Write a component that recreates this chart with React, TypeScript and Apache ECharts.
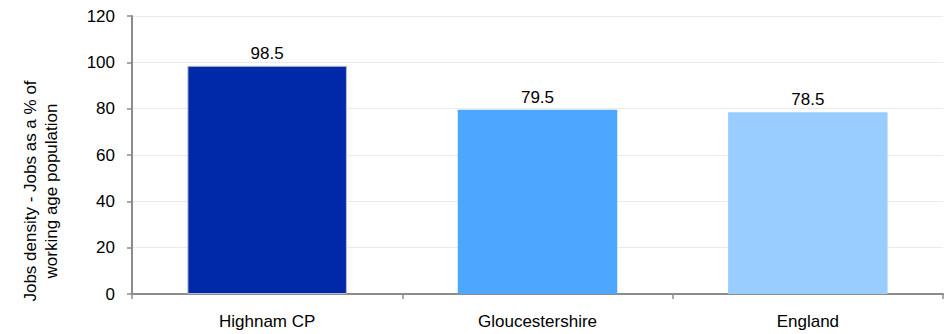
import React, { useEffect, useRef } from "react";
import * as echarts from "echarts";

const categories = ["Highnam CP", "Gloucestershire", "England"];
const values = [98.5, 79.5, 78.5];
const barColors = ["#0029AA", "#4DA6FF", "#99CCFF"];
const yTicks = { min: 0, max: 120, interval: 20 };
const yName = "Jobs density - Jobs as a % of\nworking age population";

export default function App() {
  const ref = useRef<HTMLDivElement>(null);
  useEffect(() => {
    const chart = echarts.init(ref.current!, null, { renderer: "svg" });
    const font = "'Liberation Sans', Arial, sans-serif";
    chart.setOption({
      animation: false,
      grid: { left: 132, right: 6, top: 16, bottom: 40, containLabel: false },
      graphic: [
        {
          type: "text",
          x: 41,
          y: 191,
          rotation: Math.PI / 2,
          style: {
            text: yName,
            fill: "#000",
            fontSize: 17,
            fontFamily: font,
            lineHeight: 21,
            textAlign: "center",
            textVerticalAlign: "middle",
          },
        },
      ],
      xAxis: {
        type: "category",
        data: categories,
        axisLine: { lineStyle: { color: "#8c8c8c", width: 2 } },
        axisTick: { show: true, length: 5, lineStyle: { color: "#8c8c8c", width: 1.5 } },
        axisLabel: { color: "#000", fontSize: 17, fontFamily: font, margin: 19 },
      },
      yAxis: {
        type: "value",
        min: yTicks.min,
        max: yTicks.max,
        interval: yTicks.interval,
        axisLine: { show: true, lineStyle: { color: "#8c8c8c", width: 2 } },
        axisTick: { show: true, length: 5, lineStyle: { color: "#8c8c8c", width: 1.5 } },
        axisLabel: { color: "#000", fontSize: 17, fontFamily: font, margin: 17 },
        splitLine: { lineStyle: { color: "#ebebeb" } },
      },
      series: [
        {
          type: "bar",
          barWidth: "59%",
          data: values.map((v, i) => ({
            value: v,
            itemStyle: {
              color: barColors[i],
              borderColor: i === 0 ? "#b8bcc8" : barColors[i],
              borderWidth: i === 0 ? 1 : 0,
            },
          })),
          label: {
            show: true,
            position: "top",
            distance: 4,
            color: "#000",
            fontSize: 17,
            fontFamily: font,
            formatter: (p: any) => p.value.toFixed(1),
          },
        },
      ],
    });
    return () => chart.dispose();
  }, []);
  return (
    <div
      ref={ref}
      style={{ position: "absolute", left: 0, top: 0, width: 949, height: 334 }}
    />
  );
}
